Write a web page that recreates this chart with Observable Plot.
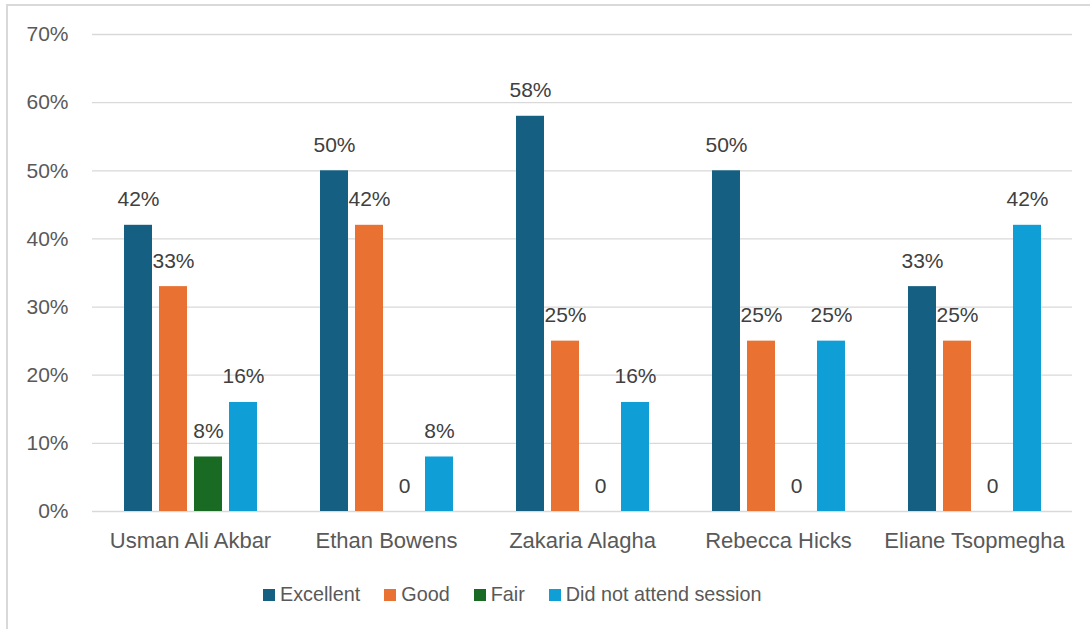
<!DOCTYPE html>
<html>
<head>
<meta charset="utf-8">
<script src="https://cdn.jsdelivr.net/npm/d3@7"></script>
<script src="https://cdn.jsdelivr.net/npm/@observablehq/plot@0.6"></script>
<style>
  html, body { margin: 0; padding: 0; background: #fff; }
  #wrap { position: relative; width: 1090px; height: 629px; overflow: hidden; font-family: "Liberation Sans", Arial, sans-serif; }
  #border { position: absolute; left: 6px; top: 4px; width: 1100px; height: 640px; border-left: 2px solid #D9D9D9; border-top: 2px solid #D9D9D9; box-sizing: border-box; }
  #chart { position: absolute; left: 0; top: 0; }
  #legend { position: absolute; left: 263px; top: 583px; display: flex; gap: 24px; font-size: 19.8px; line-height: 22px; color: #595959; }
  #legend .item { display: flex; align-items: center; gap: 5px; }
  #legend .sw { width: 12px; height: 12px; display: inline-block; margin-top: 2px; }
</style>
</head>
<body>
<div id="wrap">
  <div id="border"></div>
  <div id="chart"></div>
  <div id="legend"></div>
</div>
<script>
const categories = ["Usman Ali Akbar", "Ethan Bowens", "Zakaria Alagha", "Rebecca Hicks", "Eliane Tsopmegha"];
const series = ["Excellent", "Good", "Fair", "Did not attend session"];
const excellent = [42, 50, 58, 50, 33];
const good = [33, 42, 25, 25, 25];
const fair = [8, 0, 0, 0, 0];
const didNotAttend = [16, 8, 16, 25, 42];
const colors = ["#156082", "#E97132", "#196B24", "#0F9ED5"];
const yTicks = [0, 10, 20, 30, 40, 50, 60, 70];

const seriesValues = [excellent, good, fair, didNotAttend];
const data = [];
categories.forEach((c, i) => {
  series.forEach((s, j) => {
    data.push({category: c, series: s, value: seriesValues[j][i]});
  });
});

const chart = Plot.plot({
  width: 1090,
  height: 560,
  marginLeft: 92,
  marginRight: 18,
  marginTop: 34,
  marginBottom: 49,
  style: {fontFamily: "'Liberation Sans', Arial, sans-serif", color: "#595959", background: "transparent"},
  fx: {domain: categories, paddingInner: 0, paddingOuter: 0, label: null, axis: null},
  x: {domain: series, paddingInner: 0.2, paddingOuter: 0.845, align: 0.5, axis: null},
  y: {domain: [0, 70], label: null, axis: null},
  color: {domain: series, range: colors},
  marks: [
    Plot.gridY(yTicks, {stroke: "#D9D9D9", strokeOpacity: 1, strokeWidth: 1.3}),
    Plot.axisY(yTicks, {tickSize: 0, tickPadding: 24, tickFormat: d => d + "%", fontSize: 21, label: null}),
    Plot.axisFx({anchor: "bottom", tickSize: 0, tickPadding: 21, fontSize: 22, label: null}),
    Plot.barY(data, {fx: "category", x: "series", y: "value", fill: "series"}),
    Plot.text(data, {
      fx: "category", x: "series", y: "value",
      text: d => d.value === 0 ? "0" : d.value + "%",
      dy: -19, lineAnchor: "bottom", fill: "#404040", fontSize: 21
    })
  ]
});
document.getElementById("chart").appendChild(chart);

const legend = document.getElementById("legend");
series.forEach((s, j) => {
  const item = document.createElement("div");
  item.className = "item";
  const sw = document.createElement("span");
  sw.className = "sw";
  sw.style.background = colors[j];
  const t = document.createElement("span");
  t.textContent = s;
  item.appendChild(sw);
  item.appendChild(t);
  legend.appendChild(item);
});
</script>
</body>
</html>
